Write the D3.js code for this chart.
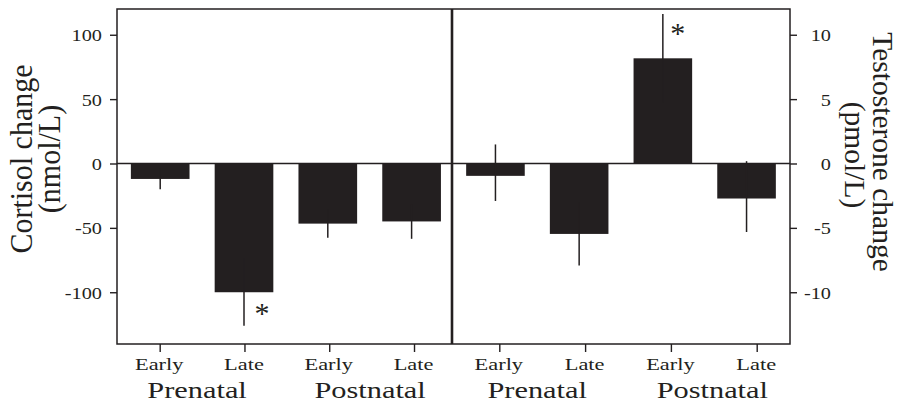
<!DOCTYPE html>
<html>
<head>
<meta charset="utf-8">
<script src="https://cdn.jsdelivr.net/npm/d3@7/dist/d3.min.js"></script>
<style>
  html, body { margin: 0; padding: 0; background: #fff; }
  svg { display: block; }
  text { font-family: "Liberation Serif", "Times New Roman", serif; fill: #231f20; }
</style>
</head>
<body>
<svg id="chart" width="900" height="404"></svg>
<script>
// ---------- data ----------
const categories = ["Prenatal Early", "Prenatal Late", "Postnatal Early", "Postnatal Late"];
const phaseLabels = ["Early", "Late", "Early", "Late"];
const groupLabels = ["Prenatal", "Postnatal"];

const cortisolMean = [-12, -100, -46.7, -45];
const cortisolErrLow = [8, 26, 11, 13.5];
const cortisolErrHigh = [8, 26, 11, 13.5];
const cortisolSig = [false, true, false, false];
const cortisolTicks = [100, 50, 0, -50, -100];

const testoMean = [-0.96, -5.47, 8.17, -2.72];
const testoErrLow = [1.95, 2.46, 3.44, 2.6];
const testoErrHigh = [2.44, 2.46, 3.44, 2.9];
const testoSig = [false, false, true, false];
const testoTicks = [10, 5, 0, -5, -10];

const cortisolTitle = ["Cortisol change", "(nmol/L)"];
const testoTitle = ["Testosterone change", "(pmol/L)"];

// ---------- layout ----------
const ink = "#231f20";
const svg = d3.select("#chart");
const plotTop = 9, plotBottom = 344;
const leftX0 = 117, midX = 452, rightX1 = 790;

const yL = d3.scaleLinear().domain([-140.2, 120]).range([plotBottom, plotTop]);
const yR = d3.scaleLinear().domain([-14.02, 12.0]).range([plotBottom, plotTop]);

const xBarL = d3.scaleBand().domain(categories).range([118.3, 453.5]).paddingInner(0.3).paddingOuter(0.15);
const xBarR = d3.scaleBand().domain(categories).range([453.6, 788.4]).paddingInner(0.3).paddingOuter(0.15);
const xTickL = d3.scalePoint().domain(categories).range([117.3, 456.4]).padding(0.5);
const xTickR = d3.scalePoint().domain(categories).range([456.4, 799.6]).padding(0.5);

// frames
svg.append("rect").attr("x", leftX0).attr("y", plotTop).attr("width", rightX1 - leftX0).attr("height", plotBottom - plotTop)
  .attr("fill", "none").attr("stroke", ink).attr("stroke-width", 1.5);
svg.append("line").attr("x1", midX).attr("x2", midX).attr("y1", plotTop).attr("y2", plotBottom)
  .attr("stroke", ink).attr("stroke-width", 2.6);

// zero line
svg.append("line").attr("x1", leftX0).attr("x2", rightX1).attr("y1", yL(0)).attr("y2", yL(0))
  .attr("stroke", ink).attr("stroke-width", 1.3);

function panel(xb, y, mean, lo, hi, sig, starDx, starDy) {
  const g = svg.append("g");
  g.selectAll("rect.bar").data(categories).join("rect")
    .attr("class", "bar")
    .attr("x", d => xb(d))
    .attr("width", xb.bandwidth())
    .attr("y", (d, i) => y(Math.max(0, mean[i])))
    .attr("height", (d, i) => Math.abs(y(mean[i]) - y(0)))
    .attr("fill", ink);
  g.selectAll("line.err").data(categories).join("line")
    .attr("class", "err")
    .attr("x1", d => xb(d) + xb.bandwidth() / 2)
    .attr("x2", d => xb(d) + xb.bandwidth() / 2)
    .attr("y1", (d, i) => y(mean[i] + hi[i]))
    .attr("y2", (d, i) => y(mean[i] - lo[i]))
    .attr("stroke", ink).attr("stroke-width", 1.5);
  categories.forEach((d, i) => {
    if (!sig[i]) return;
    const end = mean[i] < 0 ? mean[i] - lo[i] : mean[i] + hi[i];
    g.append("text")
      .attr("x", xb(d) + xb.bandwidth() / 2 + starDx)
      .attr("y", y(end) + starDy)
      .attr("text-anchor", "middle")
      .attr("font-size", 30)
      .text("*");
  });
}
panel(xBarL, yL, cortisolMean, cortisolErrLow, cortisolErrHigh, cortisolSig, 18, -3);
panel(xBarR, yR, testoMean, testoErrLow, testoErrHigh, testoSig, 15, 28.5);

const fmt = d => String(d);

// left axis
const axL = svg.append("g").attr("transform", `translate(${leftX0},0)`)
  .call(d3.axisLeft(yL).tickValues(cortisolTicks).tickSize(7).tickFormat(fmt));
axL.select(".domain").remove();
axL.selectAll("line").attr("stroke", ink).attr("stroke-width", 1.4);
axL.selectAll("text").attr("x", 0).attr("dy", null).attr("y", 0)
  .attr("transform", "translate(-15,6) scale(1.16,1)")
  .attr("text-anchor", "end").attr("font-size", 17.5).attr("fill", ink);

// right axis
const axR = svg.append("g").attr("transform", `translate(${rightX1},0)`)
  .call(d3.axisRight(yR).tickValues(testoTicks).tickSize(7).tickFormat(fmt));
axR.select(".domain").remove();
axR.selectAll("line").attr("stroke", ink).attr("stroke-width", 1.4);
axR.selectAll("text").attr("x", 0).attr("dy", null).attr("y", 0)
  .attr("transform", "translate(41,6) scale(1.16,1)")
  .attr("text-anchor", "end").attr("font-size", 17.5).attr("fill", ink);

// x axes (ticks + phase labels)
const groupShift = [-5, -1.5];
[xTickL, xTickR].forEach(xs => {
  const ax = svg.append("g").attr("transform", `translate(0,${plotBottom})`)
    .call(d3.axisBottom(xs).tickSize(8).tickFormat((d, i) => phaseLabels[i]));
  ax.select(".domain").remove();
  ax.selectAll("line").attr("stroke", ink).attr("stroke-width", 1.4);
  ax.selectAll("text").attr("y", 0).attr("dy", null)
    .attr("transform", "translate(-1,25.5) scale(1.28,1)")
    .attr("font-size", 17.5).attr("fill", ink);
  // group labels
  [0, 1].forEach(k => {
    const cx = (xs(categories[2 * k]) + xs(categories[2 * k + 1])) / 2;
    svg.append("text")
      .attr("transform", `translate(${cx + groupShift[k]},${plotBottom + 53.5}) scale(1.32,1)`)
      .attr("text-anchor", "middle").attr("font-size", 23)
      .text(groupLabels[k]);
  });
});

// y titles
cortisolTitle.forEach((t, i) => {
  svg.append("text")
    .attr("transform", `translate(${31.7 + i * 28.3},159) scale(1.08,1) rotate(-90)`)
    .attr("text-anchor", "middle").attr("font-size", 30).text(t);
});
testoTitle.forEach((t, i) => {
  svg.append("text")
    .attr("transform", `translate(${873 - i * 28.5},${152 + i * 3}) scale(1.03,1) rotate(90)`)
    .attr("text-anchor", "middle").attr("font-size", 29.5).text(t);
});
</script>
</body>
</html>
